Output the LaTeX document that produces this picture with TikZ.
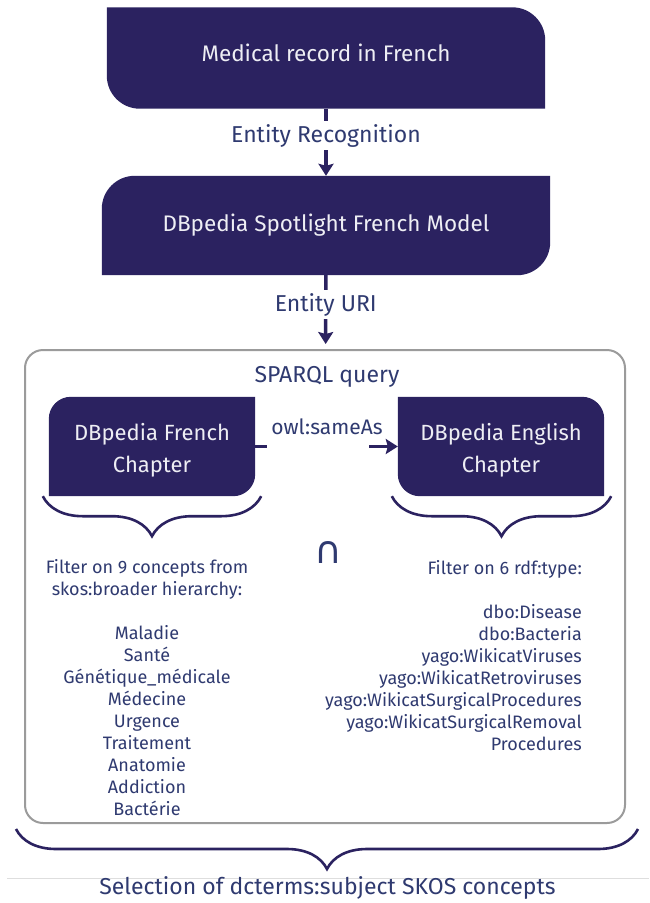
\documentclass[tikz,border=0pt]{standalone}
\usepackage{fontspec}
\setmainfont{Fira Sans}
\newfontfamily\symbolfont{DejaVu Sans}
\usepackage{xcolor}
\usepackage{tikz}
\usetikzlibrary{arrows.meta}
\usetikzlibrary{decorations.pathreplacing}
\usetikzlibrary{backgrounds}

\definecolor{navy}{RGB}{43,34,96}
\definecolor{inknavy}{RGB}{47,58,112}
\definecolor{framegray}{RGB}{155,155,155}
\definecolor{rulegray}{RGB}{222,222,222}
\definecolor{boxtext}{RGB}{238,238,244}

\tikzset{
  darkbox/.style={inner sep=0pt, text=boxtext, align=center, font=\fontsize{22.5}{32}\selectfont},
  flowlabel/.style={fill=white, inner sep=3pt, text=inknavy, font=\fontsize{23}{26}\selectfont},
  flow/.style={draw=navy, line width=3.5pt, -{Stealth[length=12pt, width=15pt, inset=2pt]}},
  curly/.style={draw=navy, line width=2.6pt, decorate, decoration={brace, amplitude=40pt}},
  listtext/.style={inner sep=0pt, text=inknavy, font=\fontsize{18}{22}\selectfont},
}

\begin{document}
\begin{tikzpicture}[x=1pt, y=1pt]
  \useasboundingbox (0,0) rectangle (649,-903);
  \node[darkbox, minimum width=438pt, minimum height=101pt, text depth=10pt] (rec) at (326,-58) {Medical record in French};
  \node[darkbox, minimum width=448pt, minimum height=99pt] (spot) at (326,-225.5) {DBpedia Spotlight French Model};
  \node[draw=framegray, line width=2pt, rounded corners=18pt, minimum width=600pt, minimum height=473pt] (query) at (325,-586.5) {};
  \node[text=inknavy, font=\fontsize{23}{26}\selectfont] (sparql) at (327,-377) {SPARQL query};
  \node[darkbox, minimum width=206pt, minimum height=99pt, font=\fontsize{22}{32}\selectfont, text height=56pt] (fr) at (152,-446.5) {DBpedia French\\Chapter};
  \node[darkbox, minimum width=206pt, minimum height=99pt, font=\fontsize{22}{32}\selectfont, text height=56pt] (en) at (501,-446.5) {DBpedia English\\Chapter};
  \node[text=inknavy, font=\fontsize{21}{24}\selectfont] (same) at (327,-427) {owl:sameAs};
  \coordinate (gapl) at (267,-446.5);
  \coordinate (gapr) at (369,-446.5);
  \begin{scope}[on background layer]
    \fill[white] (0,0) rectangle (649,-903);
    \fill[navy] (rec.north west) -- ([xshift=-33pt]rec.north east) arc[start angle=90, end angle=0, radius=33pt]
      -- (rec.south east) -- ([xshift=33pt]rec.south west) arc[start angle=270, end angle=180, radius=33pt] -- cycle;
    \fill[navy] ([yshift=-33pt]spot.north west) arc[start angle=180, end angle=90, radius=33pt] -- (spot.north east)
      -- ([yshift=33pt]spot.south east) arc[start angle=0, end angle=-90, radius=33pt] -- (spot.south west) -- cycle;
    \fill[navy] ([yshift=-22pt]fr.north west) arc[start angle=180, end angle=90, radius=22pt] -- (fr.north east)
      -- ([yshift=22pt]fr.south east) arc[start angle=0, end angle=-90, radius=22pt] -- (fr.south west) -- cycle;
    \fill[navy] (en.north west) -- ([xshift=-22pt]en.north east) arc[start angle=90, end angle=0, radius=22pt]
      -- (en.south east) -- ([xshift=22pt]en.south west) arc[start angle=270, end angle=180, radius=22pt] -- cycle;
  \end{scope}
  \draw[flow] (rec) -- node[flowlabel, pos=0.4] (er) {Entity Recognition} (spot);
  \draw[flow, shorten >=5pt] (spot) -- node[flowlabel, pos=0.4] (uri) {Entity URI} (query);
  \draw[draw=navy, line width=3.5pt] (fr.east) -- (gapl);
  \draw[flow] (gapr) -- (en.west);
  \draw[curly] ([xshift=6pt]fr.south east) -- ([xshift=-6pt]fr.south west);
  \draw[curly] ([xshift=7pt]en.south east) -- ([xshift=-6pt]en.south west);
  \node[text=inknavy, font=\symbolfont\fontsize{38}{38}\selectfont] (inter) at (328.5,-552.5) {∩};
  \node[listtext, align=center, anchor=north] (frlist) at (147,-559) {Filter on 9 concepts from\\skos:broader hierarchy:\\[22pt]Maladie\\Santé\\Génétique\_médicale\\Médecine\\Urgence\\Traitement\\Anatomie\\Addiction\\Bactérie};
  \node[listtext, align=right, anchor=north east] (enlist) at (582,-560) {Filter on 6 rdf:type:\\[22pt]dbo:Disease\\dbo:Bacteria\\yago:WikicatViruses\\yago:WikicatRetroviruses\\yago:WikicatSurgicalProcedures\\yago:WikicatSurgicalRemoval\\Procedures};
  \draw[curly] ([xshift=12pt, yshift=-5pt]query.south east) -- ([xshift=-8pt, yshift=-5pt]query.south west);
  \draw[draw=rulegray, line width=1pt] (7,-878) -- (649,-878);
  \node[text=inknavy, font=\fontsize{23}{26}\selectfont] (sel) at (327.5,-888) {Selection of dcterms:subject SKOS concepts};
\end{tikzpicture}
\end{document}
